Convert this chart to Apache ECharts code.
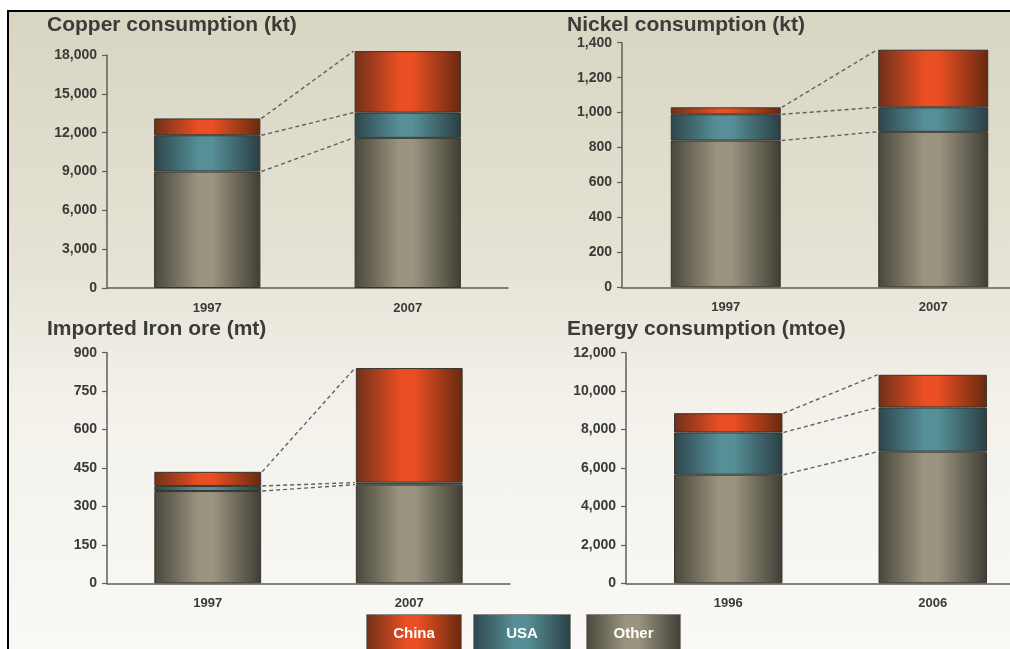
<!DOCTYPE html>
<html>
<head>
<meta charset="utf-8">
<script src="https://cdn.jsdelivr.net/npm/echarts@6/dist/echarts.min.js"></script>
<style>
html,body{margin:0;padding:0;background:#fff;width:1010px;height:649px;overflow:hidden;}
#frame{position:absolute;left:7px;top:10px;width:1010px;height:650px;border-left:2px solid #000;border-top:2px solid #000;
background:linear-gradient(to bottom,#d8d5c3 0%,#e6e3d6 40%,#f3f1ea 60%,#faf9f6 100%);}
#chart{position:absolute;left:0;top:0;width:1010px;height:649px;}
</style>
</head>
<body>
<div id="frame"></div>
<div id="chart"></div>
<script>
// ---- data ----
const seriesNames = ['China', 'USA', 'Other'];
const panelTitles = ['Copper consumption (kt)', 'Nickel consumption (kt)', 'Imported Iron ore (mt)', 'Energy consumption (mtoe)'];

const copperYears = ['1997', '2007'];
const copperOther = [9000, 11600];
const copperUSA = [2800, 1950];
const copperChina = [1300, 4750];
const copperTicks = [0, 18000, 3000];

const nickelYears = ['1997', '2007'];
const nickelOther = [840, 890];
const nickelUSA = [150, 140];
const nickelChina = [40, 330];
const nickelTicks = [0, 1400, 200];

const ironYears = ['1997', '2007'];
const ironOther = [360, 385];
const ironUSA = [20, 8];
const ironChina = [55, 447];
const ironTicks = [0, 900, 150];

const energyYears = ['1996', '2006'];
const energyOther = [5650, 6850];
const energyUSA = [2200, 2300];
const energyChina = [1000, 1700];
const energyTicks = [0, 12000, 2000];

// ---- styling ----
function grad(dark, light, dark2) {
  return new echarts.graphic.LinearGradient(0, 0, 1, 0, [
    {offset: 0, color: dark}, {offset: 0.42, color: light}, {offset: 0.55, color: light}, {offset: 1, color: dark2}
  ]);
}
const colors = {
  China: () => grad('#70301a', '#e94f22', '#67290f'),
  USA: () => grad('#2d464c', '#568f97', '#2a3f44'),
  Other: () => grad('#4a473c', '#9b9580', '#403e35')
};

const panels = [
  {years: copperYears, other: copperOther, usa: copperUSA, china: copperChina, ticks: copperTicks,
   grid: {left: 107, top: 55, width: 401, height: 233}, title: [47, 15]},
  {years: nickelYears, other: nickelOther, usa: nickelUSA, china: nickelChina, ticks: nickelTicks,
   grid: {left: 622, top: 42.7, width: 415, height: 244.6}, title: [567, 15]},
  {years: ironYears, other: ironOther, usa: ironUSA, china: ironChina, ticks: ironTicks,
   grid: {left: 107, top: 352.7, width: 403, height: 230.6}, title: [47, 319]},
  {years: energyYears, other: energyOther, usa: energyUSA, china: energyChina, ticks: energyTicks,
   grid: {left: 626, top: 352.7, width: 409, height: 230.6}, title: [567, 319]}
];

const labelColor = '#3a3a36';
const axisColor = '#5f5e58';
const BAR_FRAC = 0.53;
const FONT = 'Liberation Sans, Arial, sans-serif';

const option = {
  animation: false,
  backgroundColor: 'transparent',
  title: [], grid: [], xAxis: [], yAxis: [], series: [], graphic: []
};

panels.forEach((p, i) => {
  option.title.push({
    text: panelTitles[i], left: p.title[0], top: p.title[1], padding: 0,
    textStyle: {fontFamily: FONT, fontSize: 21, fontWeight: 'bold', color: '#3b3b38'}
  });
  option.grid.push(Object.assign({containLabel: false, outerBoundsMode: 'none'}, p.grid));
  option.xAxis.push({
    type: 'category', gridIndex: i, data: p.years,
    axisLine: {lineStyle: {color: axisColor, width: 1.5}},
    axisTick: {show: false},
    axisLabel: {margin: 14, color: labelColor, fontSize: 13, fontWeight: 'bold', fontFamily: FONT}
  });
  option.yAxis.push({
    type: 'value', gridIndex: i, min: p.ticks[0], max: p.ticks[1], interval: p.ticks[2],
    axisLine: {show: true, lineStyle: {color: axisColor, width: 1.5}},
    axisTick: {show: true, length: 5, lineStyle: {color: axisColor, width: 1.2}},
    splitLine: {show: false},
    axisLabel: {margin: 10, color: labelColor, fontSize: 14, fontWeight: 'bold', fontFamily: FONT,
      formatter: v => v.toLocaleString('en-US')}
  });
  const segs = [['Other', p.other], ['USA', p.usa], ['China', p.china]];
  segs.forEach(([name, vals]) => {
    option.series.push({
      type: 'bar', name: name, xAxisIndex: i, yAxisIndex: i, stack: 'p' + i, clip: false,
      barWidth: (BAR_FRAC * 100) + '%', data: vals,
      itemStyle: {color: colors[name](), borderColor: '#35342e', borderWidth: 1}
    });
  });
  // connector levels: Other top, USA top, total
  const lv = [0, 1].map(k => p.other[k]);
  const lv2 = [0, 1].map(k => p.other[k] + p.usa[k]);
  const lv3 = [0, 1].map(k => p.other[k] + p.usa[k] + p.china[k]);
  option.series.push({
    type: 'custom', xAxisIndex: i, yAxisIndex: i, z: 5, clip: false,
    data: [[0, lv[0], lv[1]], [0, lv2[0], lv2[1]], [0, lv3[0], lv3[1]]],
    encode: {x: 0, y: [1, 2]},
    renderItem: function (params, api) {
      const a = api.coord([0, api.value(1)]);
      const b = api.coord([1, api.value(2)]);
      const bw = api.size([1, 0])[0] * BAR_FRAC;
      return {
        type: 'line',
        shape: {x1: a[0] + bw / 2 + 1, y1: a[1], x2: b[0] - bw / 2 - 1, y2: b[1]},
        style: {stroke: '#62615c', lineWidth: 1.4, lineDash: [4, 3]}
      };
    }
  });
});

// legend boxes
const legendBoxes = [[366, 95], [473, 97], [586, 94]];
seriesNames.forEach((n, k) => {
  option.graphic.push({
    type: 'group', left: legendBoxes[k][0], top: 614,
    children: [
      {type: 'rect', shape: {x: 0, y: 0, width: legendBoxes[k][1], height: 40},
       style: {fill: colors[n](), stroke: '#8a8984', lineWidth: 1}},
      {type: 'text', x: legendBoxes[k][1] / 2, y: 19,
       style: {text: n, fill: '#ffffff', fontSize: 15, fontWeight: 'bold', fontFamily: FONT,
         textAlign: 'center', textVerticalAlign: 'middle'}}
    ]
  });
});

const chart = echarts.init(document.getElementById('chart'), null, {renderer: 'canvas'});
chart.setOption(option);
</script>
</body>
</html>
